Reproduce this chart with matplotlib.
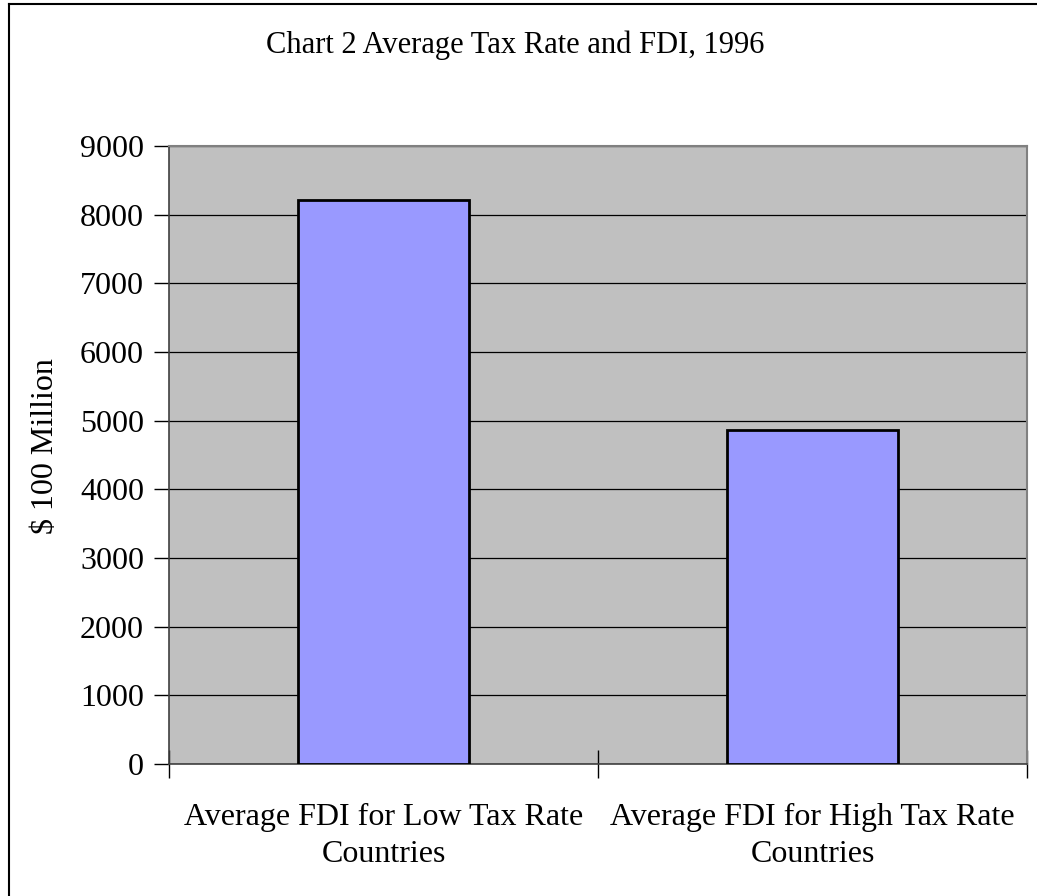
import matplotlib
matplotlib.use('Agg')
import matplotlib.pyplot as plt
from matplotlib.lines import Line2D

categories = ['Average FDI for Low Tax Rate\nCountries',
              'Average FDI for High Tax Rate\nCountries']
fdi = [8210, 4870]
yticks = [0, 1000, 2000, 3000, 4000, 5000, 6000, 7000, 8000, 9000]

plt.rcParams['font.family'] = ['Liberation Serif', 'DejaVu Serif']

fig = plt.figure(figsize=(10.37, 8.96), dpi=100)
# plot area in pixels: x 169..1027, y 146..764
ax = fig.add_axes([169/1037, 1 - 764/896, (1027-169)/1037, (764-146)/896])
ax.set_facecolor('#c0c0c0')

x = range(len(categories))
ax.bar(x, fdi, width=0.4, color='#9999ff', edgecolor='black', linewidth=2, zorder=3)

ax.set_xlim(-0.5, 1.5)
ax.set_ylim(0, 9000)
ax.set_yticks(yticks)
ax.set_yticklabels([str(v) for v in yticks], fontsize=23)
ax.yaxis.grid(True, color='black', linewidth=0.9, zorder=1)
ax.set_axisbelow(True)

ax.set_xticks(list(x))
ax.set_xticklabels(categories, fontsize=23, linespacing=1.35)
ax.tick_params(axis='x', length=0, pad=28)
ax.set_xticks([-0.5, 0.5, 1.5], minor=True)
ax.tick_params(axis='x', which='minor', direction='inout', length=20, width=1, color='black')
ax.tick_params(axis='y', length=11, width=1, color='black', pad=7)

for side in ['left', 'bottom']:
    ax.spines[side].set_color('#404040')
    ax.spines[side].set_linewidth(1.2)
for side in ['top', 'right']:
    ax.spines[side].set_color('#808080')
    ax.spines[side].set_linewidth(1.5)

ax.set_ylabel('$ 100 Million', fontsize=23)
ax.yaxis.set_label_coords(60/1037, 450/896, transform=fig.transFigure)

fig.text(515/1037, 1 - 45/896, 'Chart 2 Average Tax Rate and FDI, 1996',
         ha='center', va='center', fontsize=22)

# frame around the chart (only top and left visible)
fig.add_artist(Line2D([9/1037, 1], [1 - 4/896, 1 - 4/896], color='black', linewidth=1.5,
                      transform=fig.transFigure))
fig.add_artist(Line2D([9/1037, 9/1037], [0, 1 - 4/896], color='black', linewidth=1.5,
                      transform=fig.transFigure))

fig.savefig('out.png', dpi=100)
